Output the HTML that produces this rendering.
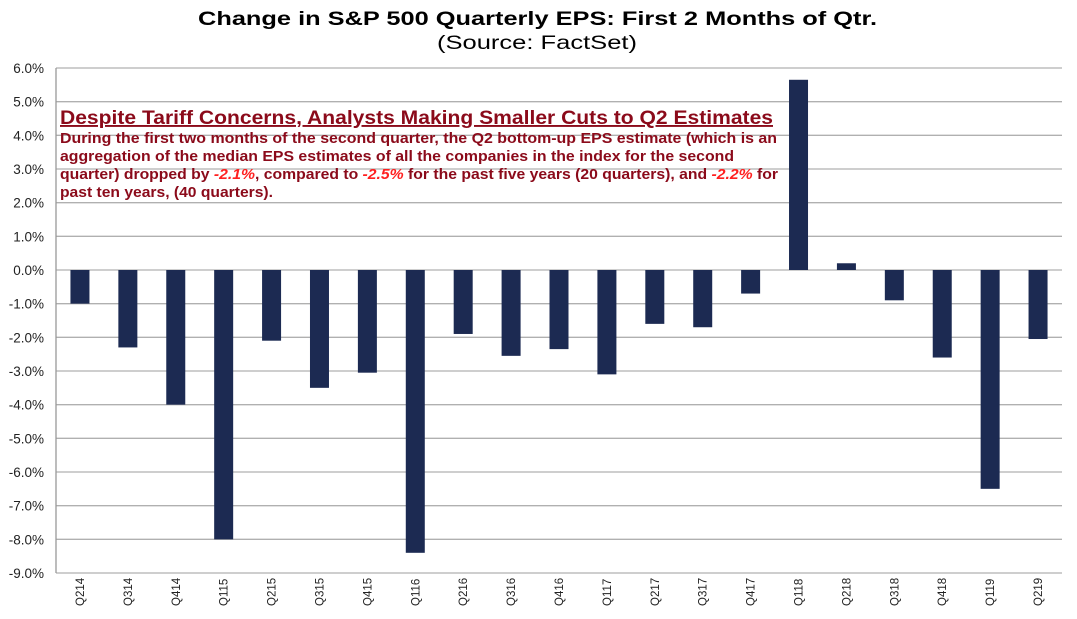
<!DOCTYPE html>
<html><head><meta charset="utf-8"><style>
body{margin:0;background:#fff;width:1077px;height:614px;overflow:hidden;font-family:"Liberation Sans",Arial,sans-serif}
</style></head><body>
<svg id="c" width="1077" height="614" xmlns="http://www.w3.org/2000/svg">
<text x="198" y="25" textLength="679" lengthAdjust="spacingAndGlyphs" font-size="19" font-weight="bold" fill="#000">Change in S&amp;P 500 Quarterly EPS: First 2 Months of Qtr.</text>
<text x="437" y="49" textLength="200" lengthAdjust="spacingAndGlyphs" font-size="19" fill="#000">(Source: FactSet)</text>
<g id="grid"></g><g id="bars"></g><g id="xl"></g>
<g font-weight="bold" fill="#8b0a1a">
<text x="60" y="124" font-size="19" textLength="713" lengthAdjust="spacingAndGlyphs" text-decoration="underline">Despite Tariff Concerns, Analysts Making Smaller Cuts to Q2 Estimates</text>
<text x="60" y="143" font-size="15" textLength="717" lengthAdjust="spacingAndGlyphs">During the first two months of the second quarter, the Q2 bottom-up EPS estimate (which is an</text>
<text x="60" y="161" font-size="15" textLength="674" lengthAdjust="spacingAndGlyphs">aggregation of the median EPS estimates of all the companies in the index for the second</text>
<text x="60" y="179" font-size="15" textLength="718" lengthAdjust="spacingAndGlyphs">quarter) dropped by <tspan fill="#ff2020" font-style="italic">-2.1%</tspan>, compared to <tspan fill="#ff2020" font-style="italic">-2.5%</tspan> for the past five years (20 quarters), and <tspan fill="#ff2020" font-style="italic">-2.2%</tspan> for</text>
<text x="60" y="197" font-size="15" textLength="213" lengthAdjust="spacingAndGlyphs">past ten years, (40 quarters).</text>
</g>
</svg>
<script>
const categories=["Q214","Q314","Q414","Q115","Q215","Q315","Q415","Q116","Q216","Q316","Q416","Q117","Q217","Q317","Q417","Q118","Q218","Q318","Q418","Q119","Q219"];
const values=[-1.0,-2.3,-4.0,-8.0,-2.1,-3.5,-3.05,-8.4,-1.9,-2.55,-2.35,-3.1,-1.6,-1.7,-0.7,5.65,0.2,-0.9,-2.6,-6.5,-2.05];
const ticks=[6,5,4,3,2,1,0,-1,-2,-3,-4,-5,-6,-7,-8,-9];
const NS="http://www.w3.org/2000/svg";
const L=56,R=1062,T=68,B=573,ymax=6,ymin=-9;
const y=v=>T+(ymax-v)/(ymax-ymin)*(B-T);
const bw=(R-L)/categories.length;
const x=i=>L+bw*(i+0.5);
function mk(t,a,p){const e=document.createElementNS(NS,t);for(const k in a)e.setAttribute(k,a[k]);p.appendChild(e);return e;}
const g=document.getElementById('grid'),gb=document.getElementById('bars'),gx=document.getElementById('xl');
ticks.forEach(t=>{
 const ln=mk('line',{x1:L,x2:R,y1:y(t),y2:y(t),stroke:'#b0b0b0','stroke-width':1.3},g);
 
 
 const tx=mk('text',{x:44,y:y(t)+5,'text-anchor':'end','font-size':13.5,fill:'#222'},g);
 tx.textContent=t.toFixed(1)+'%';
 
 
});
const ax=mk('line',{x1:L,x2:L,y1:T,y2:B,stroke:'#999','stroke-width':1.3},g);


values.forEach((v,i)=>{
 const r=mk('rect',{x:x(i)-9.5,width:19,y:Math.min(y(v),y(0)),height:Math.abs(y(v)-y(0)),fill:'#1c2a52'},gb);
 
 
 const t=mk('text',{transform:`translate(${x(i)+4},${606}) rotate(-90)`,'font-size':11.5,fill:'#222'},gx);
 t.textContent=categories[i];
 
 
});
</script>
</body></html>
